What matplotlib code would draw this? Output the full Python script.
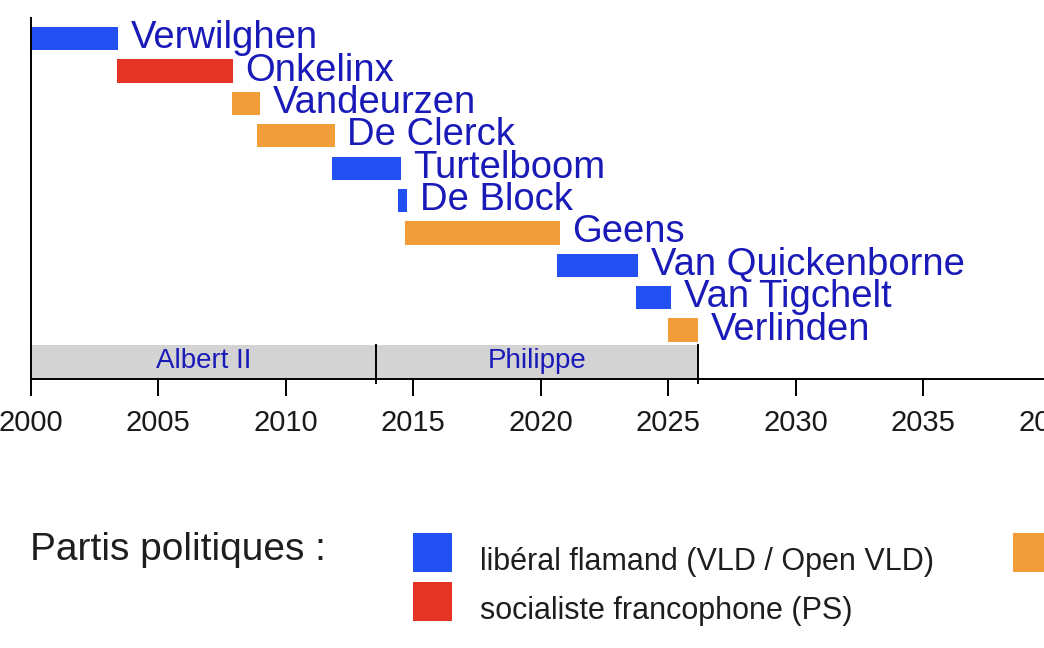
import matplotlib

matplotlib.use("Agg")
import matplotlib.pyplot as plt
from matplotlib.patches import Rectangle

plt.rcParams["font.family"] = ["Liberation Sans", "DejaVu Sans"]

# ministers of justice, start/end as decimal years, party
names = ["Verwilghen", "Onkelinx", "Vandeurzen", "De Clerck", "Turtelboom",
         "De Block", "Geens", "Van Quickenborne", "Van Tigchelt", "Verlinden"]
starts = [1999.53, 2003.40, 2007.90, 2008.89, 2011.83,
          2014.42, 2014.67, 2020.65, 2023.73, 2025.00]
ends = [2003.45, 2007.95, 2009.00, 2011.93, 2014.51,
        2014.77, 2020.76, 2023.83, 2025.12, 2026.18]
parties = ["vld", "ps", "cdv", "cdv", "vld", "vld", "cdv", "vld", "vld", "cdv"]

kings = ["Albert II", "Philippe"]
king_starts = [2000.0, 2013.55]
king_ends = [2013.55, 2026.18]

party_colors = {"vld": "#2350f2", "ps": "#e53324", "cdv": "#f19e3a"}
party_labels = {
    "vld": "libéral flamand (VLD / Open VLD)",
    "ps": "socialiste francophone (PS)",
    "cdv": "chrétien-démocrate flamand (CD&V)",
}

years = list(range(2000, 2045, 5))

NAME_COLOR = "#1a1ab8"
W, H = 1044, 648

fig = plt.figure(figsize=(W / 100, H / 100), dpi=100)
ax = fig.add_axes([30.5 / W, 1 - 378.5 / H, 41 * 25.5 / W, (378.5 - 18) / H])
ax.set_xlim(2000, 2041)
ax.set_ylim(10.50, -0.64)

bar_h = 0.72
for i, (name, s, e, p) in enumerate(zip(names, starts, ends, parties)):
    ax.barh(i, e - s, left=s, height=bar_h, color=party_colors[p], linewidth=0)
    ax.annotate(name, (e, i), xytext=(9, -6.9), textcoords="offset points",
                va="baseline", ha="left", fontsize=27.5, color=NAME_COLOR,
                annotation_clip=False)

# reign band
band_top, band_bot = 9.465, 10.50
for k, s, e in zip(kings, king_starts, king_ends):
    ax.add_patch(Rectangle((s, band_top), e - s, band_bot - band_top,
                           facecolor="#d3d3d3", edgecolor="none", zorder=1))
    ax.annotate(k, ((s + e) / 2, (band_top + band_bot) / 2), xytext=(0, -4.5),
                textcoords="offset points", ha="center", va="baseline",
                fontsize=20, color=NAME_COLOR)
for x in king_starts[1:] + king_ends[-1:]:
    ax.plot([x, x], [band_top, 10.64], color="black", lw=1.4, clip_on=False,
            zorder=3)

for side in ("top", "right"):
    ax.spines[side].set_visible(False)
for side in ("left", "bottom"):
    ax.spines[side].set_linewidth(1.4)
ax.set_yticks([])
ax.set_xticks(years)
ax.set_xticklabels([str(y) for y in years])
ax.tick_params(axis="x", length=11.9, width=1.4, pad=10, labelsize=21,
               labelcolor="#1a1a1a")

# legend
fig.text(30 / W, 1 - 560 / H, "Partis politiques :", fontsize=28,
         color="#1e1e1e", va="baseline")
legend_pos = {"vld": (413, 533), "ps": (413, 582), "cdv": (1013, 533)}
for key, (px, py) in legend_pos.items():
    fig.add_artist(Rectangle((px / W, 1 - (py + 39) / H), 39 / W, 39 / H,
                             transform=fig.transFigure,
                             facecolor=party_colors[key], edgecolor="none"))
    fig.text((px + 67) / W, 1 - (py + 37) / H, party_labels[key],
             fontsize=22, color="#1e1e1e", va="baseline")

fig.savefig("out.png", dpi=100)
